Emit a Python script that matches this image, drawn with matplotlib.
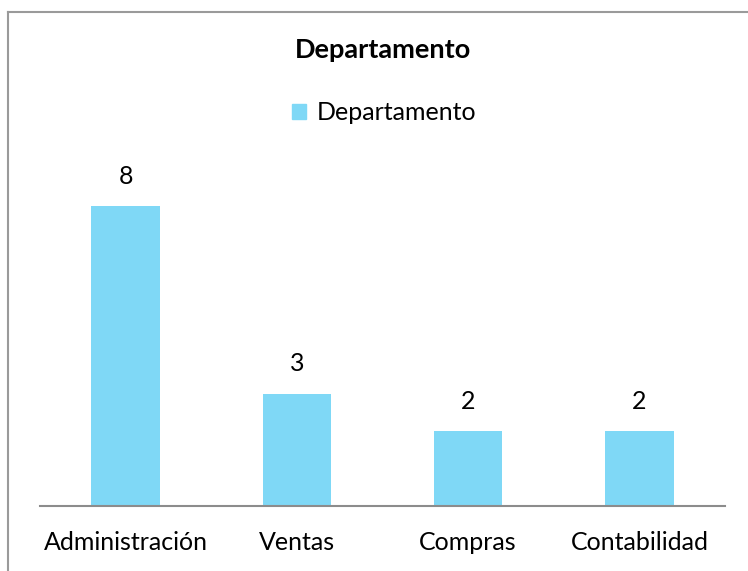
import matplotlib
matplotlib.use("Agg")
import matplotlib.pyplot as plt
from matplotlib.patches import Rectangle
from matplotlib.lines import Line2D

categories = ["Administración", "Ventas", "Compras", "Contabilidad"]
values = [8, 3, 2, 2]
series_name = "Departamento"
title = "Departamento"

W, H = 748, 571
plt.rcParams['font.family'] = ['Lato', 'DejaVu Sans']
fig = plt.figure(figsize=(W / 100, H / 100), dpi=100)

bar_color = "#7fd8f6"

# border (top and left visible; image cropped)
fig.add_artist(Line2D([8 / W, 1.01], [1 - 12 / H, 1 - 12 / H], color="#9a9a9a", lw=1.5, transform=fig.transFigure))
fig.add_artist(Line2D([8 / W, 8 / W], [-0.01, 1 - 12 / H], color="#9a9a9a", lw=1.5, transform=fig.transFigure))

ax = fig.add_axes([40 / W, (H - 506) / H, 685 / W, 337 / H])
x = list(range(len(categories)))
bars = ax.bar(x, values, width=0.4, color=bar_color, label=series_name, zorder=2)
ax.set_xlim(-0.5, len(categories) - 0.5)
ax.set_ylim(0, 9)
for s in ["top", "right", "left"]:
    ax.spines[s].set_visible(False)
ax.spines["bottom"].set_color("#8c8c8c")
ax.spines["bottom"].set_linewidth(1.5)
ax.set_yticks([])
ax.set_xticks(x)
ax.set_xticklabels(categories, fontsize=18)
ax.tick_params(axis="x", length=0, pad=18)

for b, v in zip(bars, values):
    ax.annotate(str(v), (b.get_x() + b.get_width() / 2, v), xytext=(0, 21.6),
                textcoords="offset points", ha="center", va="center", fontsize=18)

fig.text(383 / W, 1 - 50 / H, title, ha="center", va="center", fontsize=19.5, fontweight="bold")

# legend
fig.add_artist(Rectangle((292 / W, 1 - 119 / H), 14 / W, 15 / H, color=bar_color, transform=fig.transFigure))
fig.text(317 / W, 1 - 112 / H, series_name, ha="left", va="center", fontsize=18)

fig.savefig("out.png", dpi=100)
